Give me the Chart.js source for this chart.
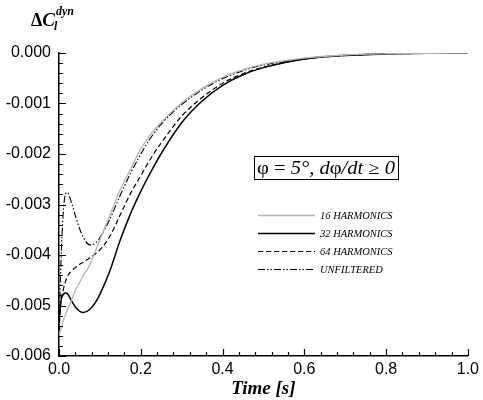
<!DOCTYPE html>
<html>
<head>
<meta charset="utf-8">
<script src="https://cdn.jsdelivr.net/npm/chart.js@4.4.1/dist/chart.umd.min.js"></script>
<style>
  html, body { margin: 0; padding: 0; background: #fff; }
  #wrap { width: 483px; height: 400px; }
</style>
</head>
<body>
<div id="wrap"><canvas id="c" width="483" height="400"></canvas></div>
<script>
// Time samples [s]
const time = [0, 0.005, 0.01, 0.015, 0.02, 0.03, 0.04, 0.05, 0.06, 0.075, 0.09, 0.1,
  0.125, 0.15, 0.175, 0.2, 0.225, 0.25, 0.3, 0.35, 0.4, 0.45, 0.5, 0.6, 0.7, 0.8, 0.9, 1.0];

// Dynamic lift coefficient increment for each reconstruction
const harm16 = [-0.0056, -0.00545, -0.0053, -0.0052, -0.0051, -0.0049, -0.0047, -0.00455, -0.0044, -0.0042, -0.0039, -0.0037,
  -0.0032, -0.0027, -0.0023, -0.0019, -0.0016, -0.00137, -0.00099, -0.0007, -0.00048, -0.00033, -0.00022, -0.0001, -0.00004, -0.000015, -0.000005, 0];
const harm32 = [-0.0053, -0.0049, -0.00479, -0.00475, -0.00476, -0.0049, -0.00503, -0.00511, -0.00514, -0.00508, -0.00493, -0.00478,
  -0.0043, -0.0037, -0.00318, -0.00274, -0.00235, -0.00199, -0.00138, -0.00095, -0.00064, -0.00043, -0.00029, -0.00012, -0.00005, -0.00002, -0.000006, 0];
const harm64 = [-0.0055, -0.0049, -0.0047, -0.00455, -0.00443, -0.00432, -0.00425, -0.00419, -0.00414, -0.00406, -0.00397, -0.0039,
  -0.00362, -0.0032, -0.00278, -0.00243, -0.00208, -0.00178, -0.00125, -0.00088, -0.0006, -0.00041, -0.00028, -0.00012, -0.00005, -0.00002, -0.000006, 0];
const unfiltered = [-0.0055, -0.0041, -0.0032, -0.00282, -0.00276, -0.00295, -0.00322, -0.00347, -0.00366, -0.0038, -0.00376, -0.00366,
  -0.00328, -0.00281, -0.00238, -0.002, -0.00167, -0.00141, -0.00102, -0.00073, -0.00051, -0.00035, -0.00024, -0.00011, -0.00004, -0.000015, -0.000005, 0];

const seriesLabels = ['16 HARMONICS', '32 HARMONICS', '64 HARMONICS', 'UNFILTERED'];
const xTicks = [0, 0.2, 0.4, 0.6, 0.8, 1.0];
const yTicks = [0, -0.001, -0.002, -0.003, -0.004, -0.005, -0.006];

const SANS = '"Liberation Sans", Arial, sans-serif';
const SERIF = '"Liberation Serif", "Times New Roman", serif';

function pts(ys) { return time.map((t, i) => ({ x: t, y: ys[i] })); }

const styles = [
  { color: '#b4b4b4', width: 1.3, dash: [] },
  { color: '#000000', width: 1.5, dash: [] },
  { color: '#000000', width: 1.2, dash: [5, 3] },
  { color: '#000000', width: 1.1, dash: [7, 2, 1.5, 2, 1.5, 2] }
];
const values = [harm16, harm32, harm64, unfiltered];

const datasets = values.map((v, i) => ({
  label: seriesLabels[i],
  data: pts(v),
  borderColor: styles[i].color,
  borderWidth: styles[i].width,
  borderDash: styles[i].dash,
  pointRadius: 0,
  fill: false,
  cubicInterpolationMode: 'monotone'
}));

// Inward major/minor ticks, titles, annotation box and legend
const decor = {
  id: 'decor',
  afterDraw(chart) {
    const ctx = chart.ctx;
    const xs = chart.scales.x, ys = chart.scales.y;
    const a = chart.chartArea;
    ctx.save();
    ctx.strokeStyle = '#000';
    ctx.lineWidth = 1.2;
    ctx.beginPath();
    for (let k = 0; k <= 25; k++) {
      const v = k * 0.04;
      const px = Math.round(xs.getPixelForValue(v)) + 0.5;
      const len = (k % 5 === 0) ? 7 : 4;
      ctx.moveTo(px, a.bottom);
      ctx.lineTo(px, a.bottom - len);
    }
    for (let k = 0; k <= 30; k++) {
      const v = -k * 0.0002;
      const py = Math.round(ys.getPixelForValue(v)) + 0.5;
      const len = (k % 5 === 0) ? 7 : 4;
      ctx.moveTo(a.left, py);
      ctx.lineTo(a.left + len, py);
    }
    ctx.stroke();

    // y axis title: ΔC_l^dyn
    ctx.fillStyle = '#000';
    ctx.textBaseline = 'alphabetic';
    ctx.textAlign = 'left';
    let x = 31;
    ctx.font = 'bold 18px ' + SERIF;
    ctx.fillText('Δ', x, 26);
    x += ctx.measureText('Δ').width;
    ctx.font = 'italic bold 19px ' + SERIF;
    ctx.fillText('C', x, 26);
    const cw = ctx.measureText('C').width;
    ctx.font = 'italic bold 12px ' + SERIF;
    ctx.fillText('dyn', x + cw + 1, 15);
    ctx.fillText('l', x + cw - 1, 30);

    // x axis title
    ctx.font = 'italic bold 19px ' + SERIF;
    ctx.textAlign = 'center';
    ctx.fillText('Time [s]', (a.left + a.right) / 2, 394);

    // annotation box
    const bx = 254, by = 156, bw = 144, bh = 23;
    ctx.lineWidth = 1;
    ctx.strokeRect(bx + 0.5, by + 0.5, bw, bh);
    const segs = [
      ['φ', ''], [' = ', ''], ['5°, ', 'italic '], ['d', 'italic '], ['φ', ''],
      ['/dt ', 'italic '], ['≥ ', ''], ['0', 'italic ']
    ];
    const fs = 18;
    let total = 0;
    segs.forEach(s => { ctx.font = s[1] + fs + 'px ' + SERIF; total += ctx.measureText(s[0]).width; });
    const sx = (bw - 6) / total;
    ctx.save();
    ctx.translate(bx + 3, by + 18);
    ctx.scale(sx, 1);
    ctx.textAlign = 'left';
    let cx = 0;
    segs.forEach(s => {
      ctx.font = s[1] + fs + 'px ' + SERIF;
      ctx.fillText(s[0], cx, 0);
      cx += ctx.measureText(s[0]).width;
    });
    ctx.restore();

    // legend
    chart.data.datasets.forEach((ds, i) => {
      const ly = 215 + i * 18 + 0.5;
      ctx.save();
      ctx.strokeStyle = ds.borderColor;
      ctx.lineWidth = ds.borderWidth;
      ctx.setLineDash(ds.borderDash || []);
      ctx.beginPath();
      ctx.moveTo(258, ly);
      ctx.lineTo(315, ly);
      ctx.stroke();
      ctx.restore();
      ctx.font = 'italic 10.5px ' + SERIF;
      ctx.textAlign = 'left';
      ctx.fillStyle = '#000';
      ctx.fillText(ds.label, 320, ly + 3.5);
    });
    ctx.restore();
  }
};

new Chart(document.getElementById('c'), {
  type: 'line',
  data: { datasets },
  options: {
    responsive: false,
    animation: false,
    devicePixelRatio: 1,
    layout: { padding: { left: 0, top: 53, right: 11, bottom: 0 } },
    plugins: { legend: { display: false }, tooltip: { enabled: false } },
    scales: {
      x: {
        type: 'linear',
        min: 0, max: 1,
        grid: { display: false, drawTicks: false },
        border: { display: true, color: '#000', width: 1.5 },
        afterBuildTicks: s => { s.ticks = xTicks.map(v => ({ value: v })); },
        afterFit: s => { s.height = 44; },
        ticks: {
          autoSkip: false, maxRotation: 0, padding: 4, color: '#000',
          font: { family: SANS, size: 16 },
          callback: v => Number(v).toFixed(1)
        }
      },
      y: {
        type: 'linear',
        min: -0.006, max: 0,
        grid: { display: false, drawTicks: false },
        border: { display: true, color: '#000', width: 1.5 },
        afterBuildTicks: s => { s.ticks = yTicks.map(v => ({ value: v })); },
        afterFit: s => { s.width = 59; },
        ticks: {
          autoSkip: false, padding: 8, color: '#000',
          font: { family: SANS, size: 16 },
          callback: v => Number(v).toFixed(3)
        }
      }
    }
  },
  plugins: [decor]
});
</script>
</body>
</html>
